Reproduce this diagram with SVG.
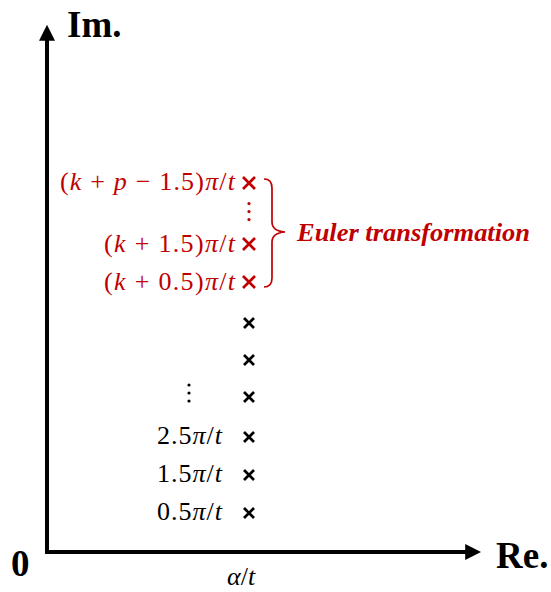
<svg xmlns="http://www.w3.org/2000/svg" width="551" height="592" viewBox="0 0 551 592">
<defs>
<marker id="ah" markerWidth="4" markerHeight="4" refX="2.2" refY="2" orient="auto" markerUnits="strokeWidth"><path d="M0,0 L4,2 L0,4 Z" fill="#000"/></marker>
<style>
.ax{font-family:"Liberation Serif",serif;font-weight:bold;font-size:37px;fill:#000}
.m{font-family:"Liberation Serif",serif;font-size:26px}
.k{fill:#000}
.r{fill:#c00000}
.x{stroke-width:2.7;stroke-linecap:butt;fill:none}
.xk{stroke:#000}
.xr{stroke:#c00000}
</style>
</defs>
<rect width="551" height="592" fill="#fff"/>
<g id="axes">
<path d="M47,553 L47,32" stroke="#000" stroke-width="4" fill="none" marker-end="url(#ah)"/>
<path d="M45,552 L474,552" stroke="#000" stroke-width="4" fill="none" marker-end="url(#ah)"/>
<text class="ax" x="67" y="37">Im.</text>
<text class="ax" x="496" y="568">Re.</text>
<text class="ax" x="11" y="576">0</text>
<text class="m k" x="227" y="585" font-size="24"><tspan font-style="italic">α</tspan>/<tspan font-style="italic">t</tspan></text>
</g>
<g id="poles">
<g class="x xr"><path d="M243,177 L255,189 M255,177 L243,189"/><path d="M243,238 L255,250 M255,238 L243,250"/><path d="M243,276 L255,288 M255,276 L243,288"/></g>
<g class="x xk"><path d="M244,318 L254,328 M254,318 L244,328"/><path d="M244,355 L254,365 M254,355 L244,365"/><path d="M244,392 L254,402 M254,392 L244,402"/><path d="M244,432 L254,442 M254,432 L244,442"/><path d="M244,470 L254,480 M254,470 L244,480"/><path d="M244,508 L254,518 M254,508 L244,518"/></g>
<g fill="#c00000"><circle cx="249" cy="203.5" r="1.6"/><circle cx="249" cy="211.5" r="1.6"/><circle cx="249" cy="219.5" r="1.6"/></g>
<g fill="#000"><circle cx="189" cy="385" r="1.6"/><circle cx="189" cy="393" r="1.6"/><circle cx="189" cy="401" r="1.6"/></g>
</g>
<g id="labels">
<text class="m r" x="60" y="190" textLength="175" lengthAdjust="spacing">(<tspan font-style="italic">k</tspan> + <tspan font-style="italic">p</tspan> − 1.5)<tspan font-style="italic">π</tspan>/<tspan font-style="italic">t</tspan></text>
<text class="m r" x="104" y="252" textLength="131" lengthAdjust="spacing">(<tspan font-style="italic">k</tspan> + 1.5)<tspan font-style="italic">π</tspan>/<tspan font-style="italic">t</tspan></text>
<text class="m r" x="104" y="290" textLength="131" lengthAdjust="spacing">(<tspan font-style="italic">k</tspan> + 0.5)<tspan font-style="italic">π</tspan>/<tspan font-style="italic">t</tspan></text>
<text class="m k" x="157" y="444" textLength="65" lengthAdjust="spacing">2.5<tspan font-style="italic">π</tspan>/<tspan font-style="italic">t</tspan></text>
<text class="m k" x="157" y="482" textLength="65" lengthAdjust="spacing">1.5<tspan font-style="italic">π</tspan>/<tspan font-style="italic">t</tspan></text>
<text class="m k" x="157" y="520" textLength="65" lengthAdjust="spacing">0.5<tspan font-style="italic">π</tspan>/<tspan font-style="italic">t</tspan></text>
</g>
<g id="brace">
<path d="M264,179 Q272,179 272,188 L272,222 Q272,231 285,232 Q272,233 272,242 L272,278 Q272,287 264,287" fill="none" stroke="#c00000" stroke-width="1.7"/>
<text x="297" y="241" textLength="233" lengthAdjust="spacingAndGlyphs" font-family="Liberation Serif,serif" font-weight="bold" font-style="italic" font-size="25" fill="#c00000">Euler transformation</text>
</g>
</svg>
